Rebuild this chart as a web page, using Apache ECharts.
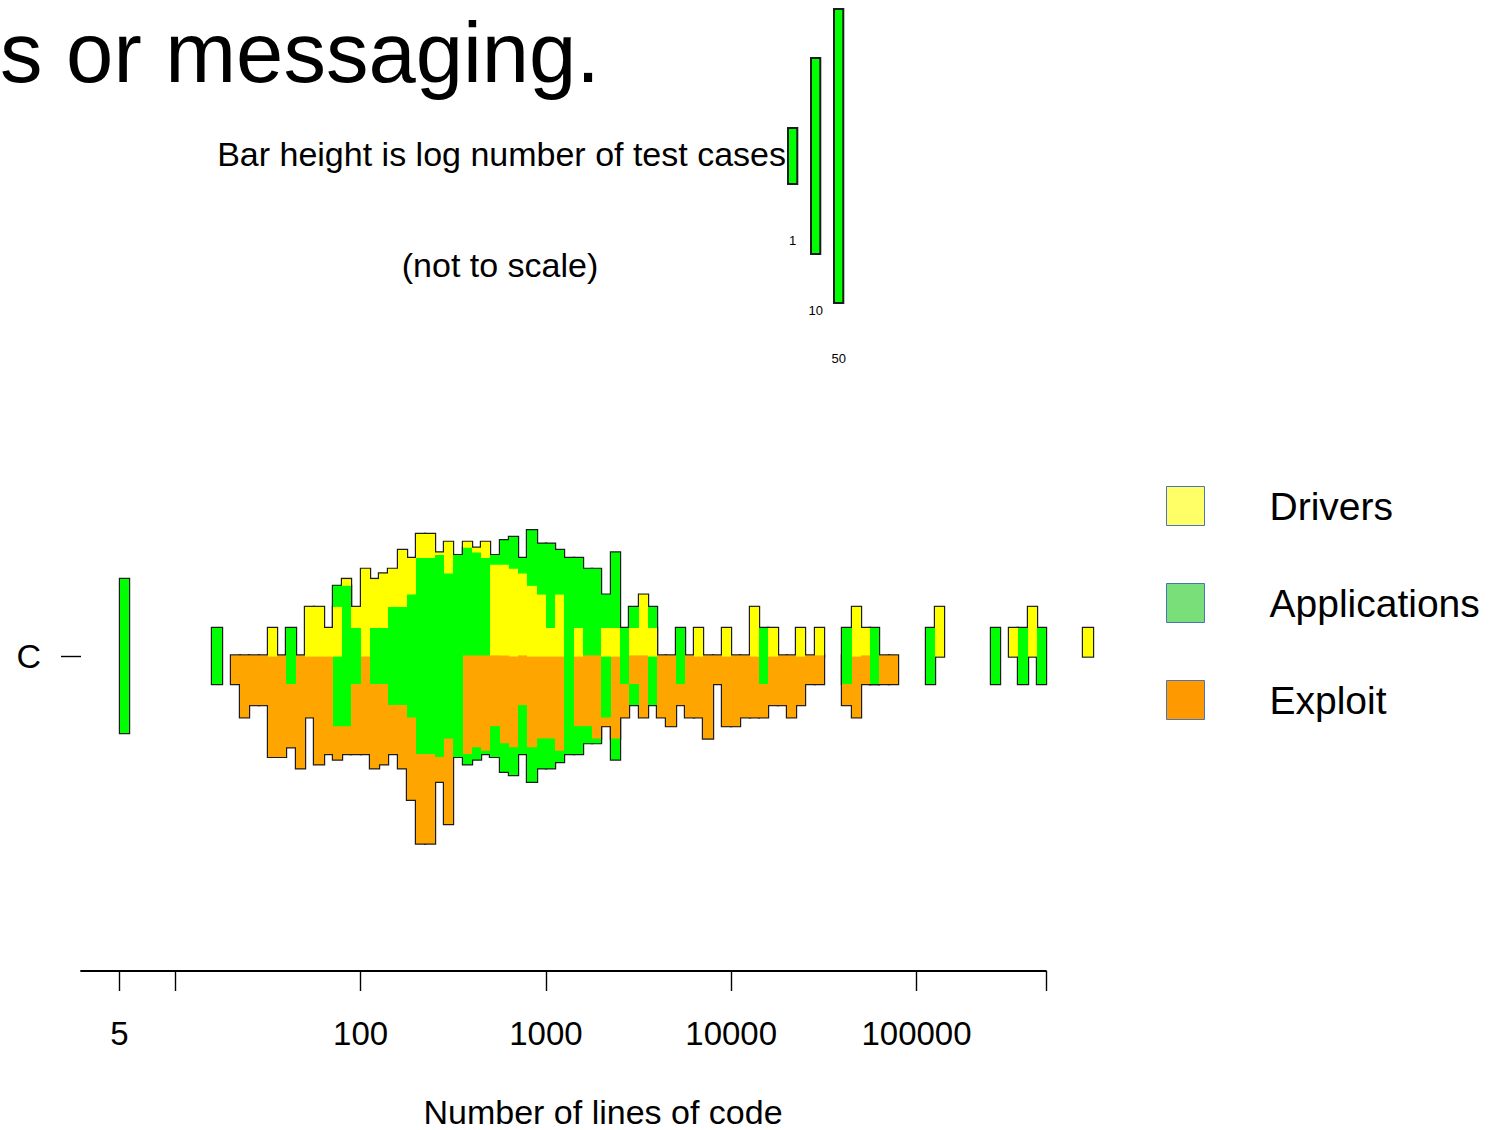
<!DOCTYPE html>
<html>
<head>
<meta charset="utf-8">
<script src="https://cdn.jsdelivr.net/npm/echarts@6/dist/echarts.min.js"></script>
<style>
html,body{margin:0;padding:0;background:#fff;overflow:hidden;}
#chart{width:1505px;height:1130px;}
</style>
</head>
<body>
<div id="chart"></div>
<script>
// ---- data (bins are 0.05 wide in log10(lines of code)) ----
const binLog10 = [
  0.70,0.75,0.80,0.85,0.90,0.95,1.00,1.05,1.10,1.15,
  1.20,1.25,1.30,1.35,1.40,1.45,1.50,1.55,1.60,1.65,
  1.70,1.75,1.80,1.85,1.90,1.95,2.00,2.05,2.10,2.15,
  2.20,2.25,2.30,2.35,2.40,2.45,2.50,2.55,2.60,2.65,
  2.70,2.75,2.80,2.85,2.90,2.95,3.00,3.05,3.10,3.15,
  3.20,3.25,3.30,3.35,3.40,3.45,3.50,3.55,3.60,3.65,
  3.70,3.75,3.80,3.85,3.90,3.95,4.00,4.05,4.10,4.15,
  4.20,4.25,4.30,4.35,4.40,4.45,4.50,4.55,4.60,4.65,
  4.70,4.75,4.80,4.85,4.90,4.95,5.00,5.05,5.10,5.15,
  5.20,5.25,5.30,5.35,5.40,5.45,5.50,5.55,5.60,5.65,
  5.70,5.75,5.80,5.85,5.90
];
// number of test cases per bin
const drivers = [
  0,0,0,0,0,0,0,0,0,0,
  0,0,0,0,0,0,1,0,0,0,
  2,2,1,2,5,2,7,5,6,7,
  13,10,22,22,12,17,0,17,14,17,
  8,8,7,6,4,3,1,3,0,1,
  0,0,1,1,0,1,3,1,0,0,
  0,0,1,0,0,1,0,0,2,0,
  1,0,0,1,0,1,0,0,0,2,
  1,0,0,0,0,0,0,0,2,0,
  0,0,0,0,0,0,1,0,2,0,
  0,0,0,0,1
];
const applications = [
  5,0,0,0,0,0,0,0,0,0,
  1,0,0,0,0,0,0,0,1,0,
  0,0,0,4,4,1,0,1,1,2,
  2,3,10,10,11,6,11,14,12,10,
  11,18,20,10,25,16,16,13,10,10,
  7,7,3,12,1,2,0,2,0,0,
  1,0,0,0,0,0,0,0,0,1,
  0,0,0,0,0,0,0,0,1,0,
  0,1,0,0,0,0,0,1,0,0,
  0,0,0,0,1,0,0,1,0,1,
  0,0,0,0,0
];
const exploit = [
  0,0,0,0,0,0,0,0,0,0,
  0,0,1,3,2,2,11,11,8,16,
  3,14,10,12,10,10,10,16,14,10,
  16,45,190,190,25,100,0,10,8,9,
  4,7,8,2,8,6,6,9,0,4,
  4,6,4,6,3,1,3,0,3,4,
  2,3,3,6,1,4,4,3,3,3,
  2,2,3,2,1,1,0,0,2,3,
  1,1,1,1,0,0,0,0,0,0,
  0,0,0,0,0,0,0,0,0,0,
  0,0,0,0,0
];
const xTickValues = [5, 10, 100, 1000, 10000, 100000, 500000];
const xLabelValues = [5, 100, 1000, 10000, 100000];
const categoryLabels = ['C'];
const scaleCounts = [1, 10, 50];
const seriesNames = ['Drivers', 'Applications', 'Exploit'];

// ---- helpers ----
const hUnits = n => 1 + 2.5 * Math.log10(n);   // bar half height (log of count)
const binStep = binLog10[1] - binLog10[0];

const barColors = {Drivers: '#FFFF00', Applications: '#00FF00', Exploit: '#FFA500'};
const legendColors = {Drivers: '#FFFF66', Applications: '#79E079', Exploit: '#FF9900'};
const OUT = '#1c1c1c';
const FONT = '"Liberation Sans", Arial, Helvetica, sans-serif';

function zOrder(h, isGreen) {  // shorter bars are drawn on top
  return 10 + Math.round((20 - h) * 100) * 2 + (isGreen ? 1 : 0);
}

function buildData(counts, isGreen) {
  const out = [];
  counts.forEach((n, i) => {
    if (n > 0) {
      const h = hUnits(n);
      out.push([binLog10[i], h, zOrder(h, isGreen), n]);
    }
  });
  return out;
}

function makeRender(kind, color) {
  return function (params, api) {
    const x0 = api.value(0), h = api.value(1), z2 = api.value(2);
    const xa = Math.round(api.coord([x0, 0])[0]);
    const xb = Math.round(api.coord([x0 + binStep, 0])[0]);
    const yc = api.coord([x0, 0])[1];
    let yTop, yBot;
    if (kind === 'up') { yTop = api.coord([x0, h])[1]; yBot = yc + 0.6; }
    else if (kind === 'down') { yTop = yc - 0.6; yBot = api.coord([x0, -h])[1]; }
    else { yTop = api.coord([x0, h])[1]; yBot = api.coord([x0, -h])[1]; }
    const shape = {x: xa, y: yTop, width: xb - xa, height: yBot - yTop};
    return {
      type: 'group',
      children: [
        {type: 'rect', shape: shape, z2: 0, style: {fill: OUT, stroke: OUT, lineWidth: 2.4}},
        {type: 'rect', shape: shape, z2: z2, style: {fill: color}}
      ]
    };
  };
}

function renderScale(params, api) {
  const i = api.value(0), h = api.value(1), label = api.value(2);
  const p = api.coord([i, h]);
  const q = api.coord([i, -h]);
  const w = 9.3;
  return {
    type: 'group',
    children: [
      {type: 'rect', shape: {x: Math.round(p[0]), y: p[1], width: w, height: q[1] - p[1]},
       style: {fill: '#00FF00', stroke: OUT, lineWidth: 2}},
      {type: 'text', style: {text: String(label), x: Math.round(p[0]) + w / 2, y: q[1] + 56,
        fill: '#000', font: '13px ' + FONT, align: 'center', verticalAlign: 'middle'}}
    ]
  };
}

const option = {
  animation: false,
  backgroundColor: '#fff',
  grid: [
    {left: 81, right: 459, top: 341, bottom: 1130 - 971, containLabel: false, outerBoundsMode: 'none'},
    {left: 788, width: 69, top: 2, height: 308, containLabel: false, outerBoundsMode: 'none'}
  ],
  xAxis: [
    {
      type: 'value', gridIndex: 0,
      min: 2 - (360.6 - 81) / 185.3, max: Math.log10(500000),
      splitLine: {show: false},
      axisLine: {show: true, onZero: false, lineStyle: {color: '#000', width: 1.8}},
      axisTick: {show: true, customValues: xTickValues.map(Math.log10), length: 20,
                 lineStyle: {color: '#000', width: 1.4}},
      axisLabel: {show: true, customValues: xLabelValues.map(Math.log10), margin: 46,
                  formatter: v => String(Math.round(Math.pow(10, v))),
                  color: '#000', fontSize: 33, fontFamily: FONT},
      name: 'Number of lines of code', nameLocation: 'middle', nameGap: 124,
      nameTextStyle: {color: '#000', fontSize: 34, fontFamily: FONT, padding: [0, 0, 0, 79]}
    },
    {type: 'value', gridIndex: 1, min: 0, max: 3, show: false}
  ],
  yAxis: [
    {type: 'value', gridIndex: 0, min: -11.25, max: 11.25, show: false, position: 'right'},
    {
      type: 'category', gridIndex: 0, data: categoryLabels, position: 'left',
      axisLine: {show: false},
      axisTick: {show: true, alignWithLabel: true, length: 20, lineStyle: {color: '#000', width: 1.4}},
      axisLabel: {color: '#000', fontSize: 34, fontFamily: FONT, margin: 40},
      splitLine: {show: false}
    },
    {type: 'value', gridIndex: 1, min: -5.5, max: 5.5, show: false}
  ],
  legend: {
    orient: 'vertical', left: 1166, top: 486, padding: 0,
    itemWidth: 38, itemHeight: 39, itemGap: 57, icon: 'rect',
    selectedMode: false,
    textStyle: {color: '#000', fontSize: 39, lineHeight: 39, fontFamily: FONT, padding: [0, 0, 0, 60]},
    data: seriesNames.map(n => ({name: n, itemStyle: {color: legendColors[n], borderColor: '#4A74B8', borderWidth: 1}}))
  },
  graphic: [
    {type: 'text', silent: true, style: {text: 's or messaging.', x: 0, y: 82 - 0.3465 * 85,
      font: '85px ' + FONT, fill: '#000', align: 'left', verticalAlign: 'middle'}},
    {type: 'text', silent: true, style: {text: 'Bar height is log number of test cases', x: 786, y: 166 - 0.3465 * 34,
      font: '34px ' + FONT, fill: '#000', align: 'right', verticalAlign: 'middle'}},
    {type: 'text', silent: true, style: {text: '(not to scale)', x: 500, y: 277 - 0.3465 * 34,
      font: '34px ' + FONT, fill: '#000', align: 'center', verticalAlign: 'middle'}}
  ],
  series: [
    {name: 'Drivers', type: 'custom', xAxisIndex: 0, yAxisIndex: 0, silent: true, clip: false,
     itemStyle: {color: barColors.Drivers}, data: buildData(drivers, false),
     renderItem: makeRender('up', barColors.Drivers)},
    {name: 'Applications', type: 'custom', xAxisIndex: 0, yAxisIndex: 0, silent: true, clip: false,
     itemStyle: {color: barColors.Applications}, data: buildData(applications, true),
     renderItem: makeRender('sym', barColors.Applications)},
    {name: 'Exploit', type: 'custom', xAxisIndex: 0, yAxisIndex: 0, silent: true, clip: false,
     itemStyle: {color: barColors.Exploit}, data: buildData(exploit, false),
     renderItem: makeRender('down', barColors.Exploit)},
    {name: 'scale', type: 'custom', xAxisIndex: 1, yAxisIndex: 2, silent: true, clip: false,
     data: scaleCounts.map((n, i) => [i, hUnits(n), n]),
     renderItem: renderScale}
  ]
};

const chart = echarts.init(document.getElementById('chart'), null, {renderer: 'svg', width: 1505, height: 1130});
chart.setOption(option);
</script>
</body>
</html>
